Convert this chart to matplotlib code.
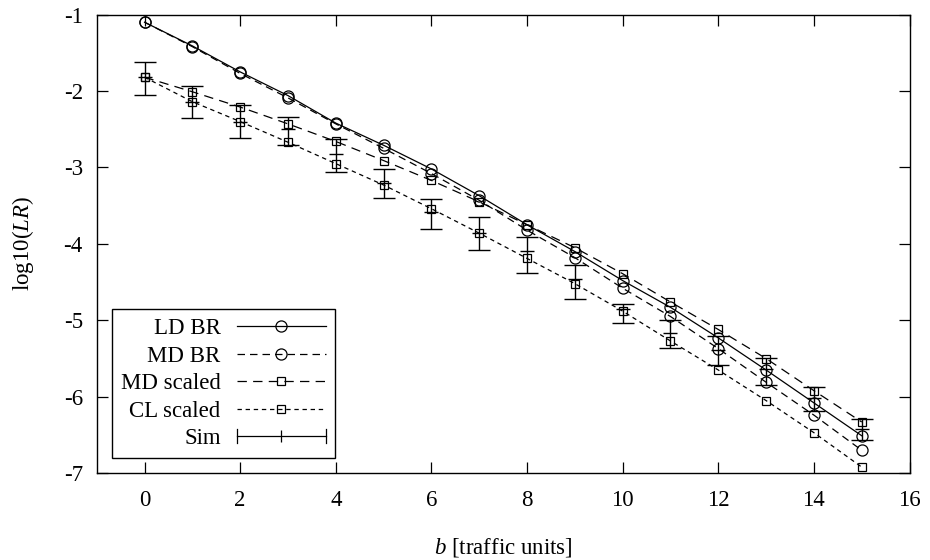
import matplotlib
matplotlib.use("Agg")
import matplotlib.pyplot as plt
from matplotlib.legend_handler import HandlerBase
from matplotlib.lines import Line2D

plt.rcParams["font.family"] = ["Liberation Serif", "DejaVu Serif"]
plt.rcParams["mathtext.fontset"] = "custom"
plt.rcParams["mathtext.rm"] = "Liberation Serif"
plt.rcParams["mathtext.it"] = "Liberation Serif:italic"
plt.rcParams["axes.unicode_minus"] = False

b = list(range(16))

ld_br = [-1.10, -1.41, -1.75, -2.06, -2.42, -2.71, -3.02, -3.37, -3.75, -4.10,
         -4.48, -4.83, -5.23, -5.65, -6.08, -6.51]
md_br = [-1.10, -1.42, -1.77, -2.09, -2.43, -2.75, -3.08, -3.43, -3.82, -4.18,
         -4.58, -4.95, -5.37, -5.81, -6.24, -6.70]
md_scaled = [-1.82, -2.01, -2.21, -2.43, -2.66, -2.91, -3.17, -3.45, -3.75, -4.05,
             -4.39, -4.76, -5.12, -5.50, -5.92, -6.33]
cl_scaled = [-1.82, -2.14, -2.40, -2.67, -2.95, -3.23, -3.54, -3.86, -4.19, -4.52,
             -4.88, -5.27, -5.65, -6.05, -6.47, -6.92]

sim_mid = [-1.82, -2.14, -2.40, -2.50, -2.82, -3.20, -3.58, -3.86, -4.09, -4.46,
           -4.85, -5.16, -5.39, -5.64, -6.02, -6.42]
sim_hi = [-1.62, -1.93, -2.18, -2.34, -2.63, -3.02, -3.41, -3.65, -3.91, -4.27,
          -4.78, -5.00, -5.21, -5.49, -5.87, -6.29]
sim_lo = [-2.05, -2.35, -2.62, -2.71, -3.06, -3.40, -3.80, -4.08, -4.38, -4.72,
          -5.03, -5.36, -5.58, -5.84, -6.18, -6.56]


class SimHandler(HandlerBase):
    def create_artists(self, legend, orig_handle, xdescent, ydescent,
                       width, height, fontsize, trans):
        y = height / 2 - ydescent
        x0, x1 = -xdescent, width - xdescent
        cap = 0.45 * height
        arts = [
            Line2D([x0, x1], [y, y], color="black", lw=0.9),
            Line2D([x0, x0], [y - cap, y + cap], color="black", lw=0.9),
            Line2D([x1, x1], [y - cap, y + cap], color="black", lw=0.9),
            Line2D([(x0 + x1) / 2], [y], marker="|", ms=8, mew=0.9, color="black"),
        ]
        for a in arts:
            a.set_transform(trans)
        return arts


fig = plt.figure(figsize=(9.3, 5.6), dpi=100)
ax = fig.add_axes([0.104, 0.155, 0.874, 0.819])

lw = 0.9
fs = 16.5
ax.plot(b, ld_br, color="black", lw=lw, ls="-", marker="o", ms=8,
        mfc="none", mew=0.9, label="LD BR")
ax.plot(b, md_br, color="black", lw=lw, ls=(0, (6, 4)), marker="o", ms=8,
        mfc="none", mew=0.9, label="MD BR")
ax.plot(b, md_scaled, color="black", lw=lw, ls=(0, (7.5, 5)), marker="s", ms=6,
        mfc="none", mew=0.9, label="MD scaled")
ax.plot(b, cl_scaled, color="black", lw=lw, ls=(0, (3.5, 3)), marker="s", ms=6,
        mfc="none", mew=0.9, label="CL scaled")

err_lo = [m - l for m, l in zip(sim_mid, sim_lo)]
err_hi = [h - m for m, h in zip(sim_mid, sim_hi)]
ax.errorbar(b, sim_mid, yerr=[err_lo, err_hi], fmt="none", ecolor="black",
            elinewidth=1.0, capsize=8, capthick=1.0)
ax.plot(b, sim_mid, ls="none", marker="_", ms=10, mew=1.0, color="black")
sim_handle = Line2D([], [], color="black")

ax.set_xlim(-1, 16)
ax.set_ylim(-7, -1)
ax.set_xticks(range(0, 17, 2))
ax.set_yticks(range(-7, 0))
ax.tick_params(direction="in", length=8, width=0.9, top=True, right=True,
               labelsize=fs)
ax.tick_params(axis="x", pad=12)
ax.tick_params(axis="y", pad=10)
for s in ax.spines.values():
    s.set_linewidth(1.0)

ax.set_xlabel("$b$ [traffic units]", fontsize=fs, labelpad=18)
ax.set_ylabel("log10($\\mathit{LR}$)", fontsize=fs, labelpad=20)

handles, labels = ax.get_legend_handles_labels()
handles.append(sim_handle)
labels.append("Sim")
leg = ax.legend(handles, labels, loc="lower left", markerfirst=False,
                fontsize=fs, handlelength=3.9, handletextpad=0.7,
                labelspacing=0.28, borderpad=0.4, borderaxespad=0.65,
                fancybox=False, edgecolor="black", framealpha=1,
                numpoints=1, handler_map={sim_handle: SimHandler()})
leg.get_frame().set_linewidth(1.0)

fig.savefig("out.png", dpi=100)
